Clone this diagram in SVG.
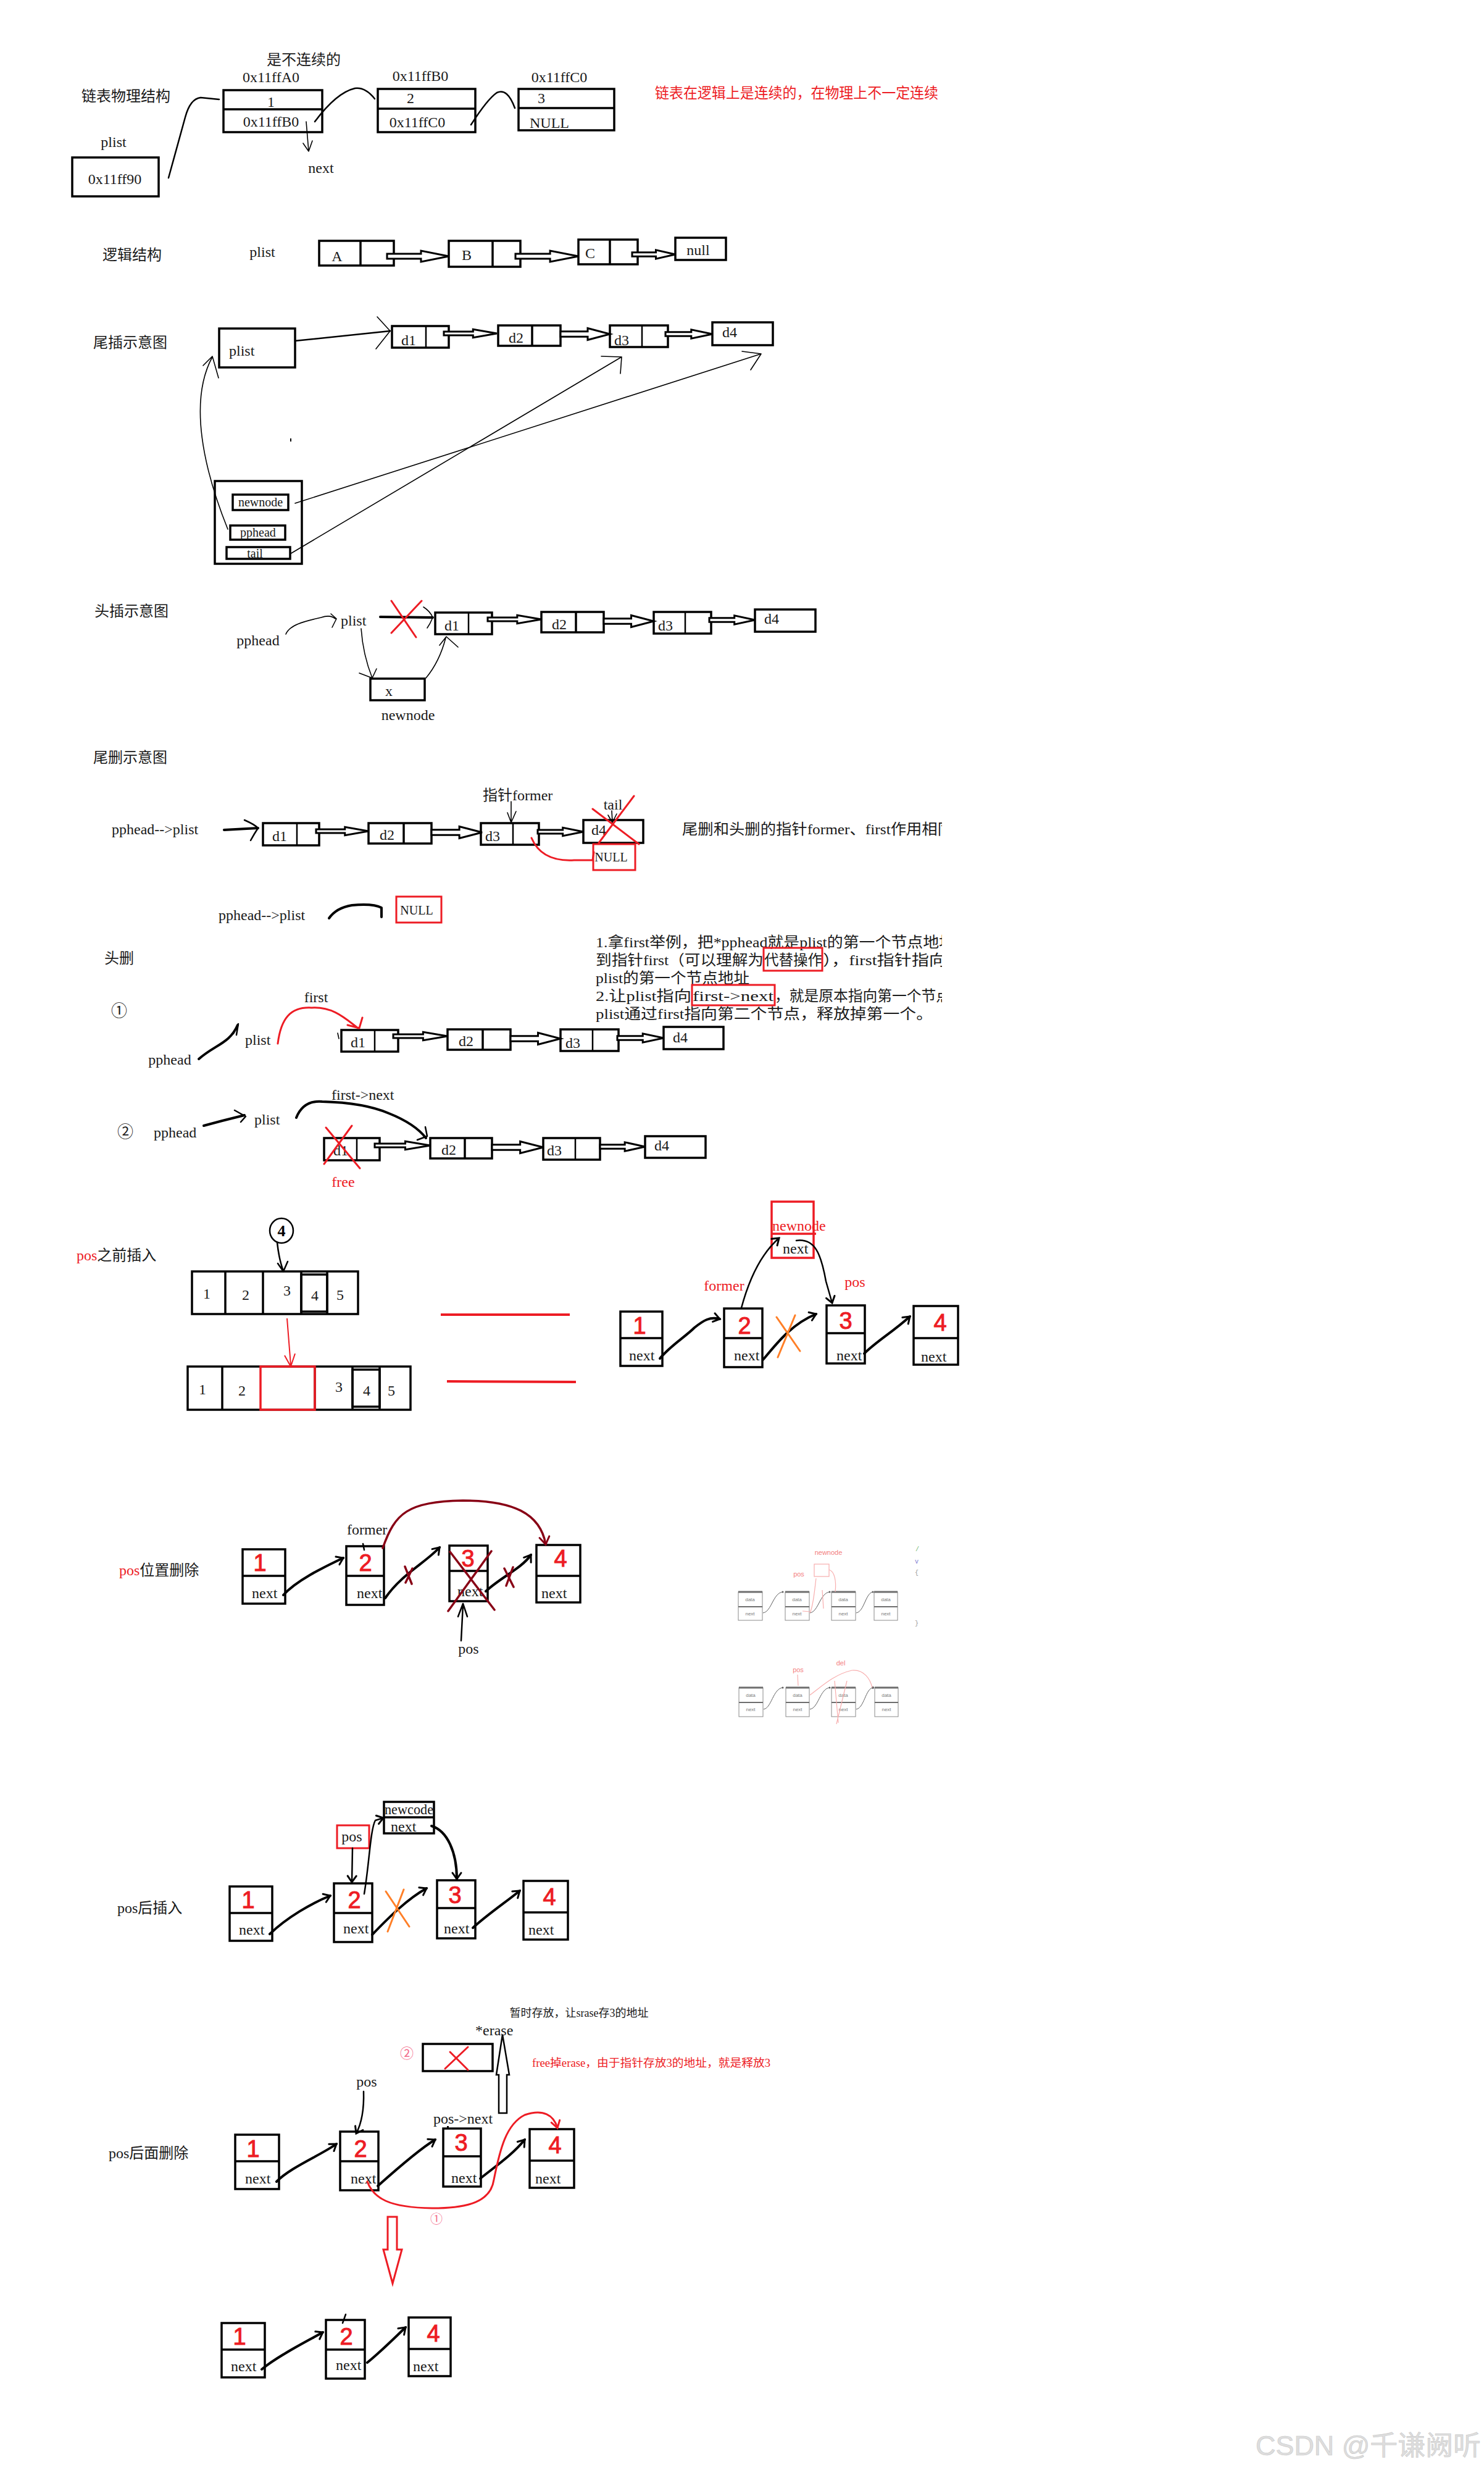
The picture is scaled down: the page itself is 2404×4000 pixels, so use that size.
<svg xmlns="http://www.w3.org/2000/svg" width="2404" height="4000" viewBox="0 0 2404 4000">
<defs>
<style>
.t{font-family:"Liberation Serif","Noto Sans CJK SC",serif;font-size:24px;fill:#1a1a1a}
.s{font-size:20px}
.m{text-anchor:middle}
.rd{fill:#ed1c24}
.hd{font-family:"Liberation Sans","Noto Sans CJK SC",sans-serif;font-size:38px;fill:#ed1c24;stroke:#ed1c24;stroke-width:1;text-anchor:middle}
.b{fill:none;stroke:#000;stroke-width:3.5}
.bt{fill:none;stroke:#000;stroke-width:2.5}
.c{fill:none;stroke:#000;stroke-width:4;stroke-linecap:round;stroke-linejoin:round}
.cm{fill:none;stroke:#000;stroke-width:2.5;stroke-linecap:round;stroke-linejoin:round}
.thin{fill:none;stroke:#000;stroke-width:1.6;stroke-linecap:round;stroke-linejoin:round}
.rc{fill:none;stroke:#ed1c24;stroke-width:3;stroke-linecap:round;stroke-linejoin:round}
.oc{fill:none;stroke:#ff7f27;stroke-width:3;stroke-linecap:round}
.dc{fill:none;stroke:#880015;stroke-width:3.5;stroke-linecap:round;stroke-linejoin:round}
.ha{fill:#fff;stroke:#000;stroke-width:3}
.fd{fill:#fff;stroke:#777;stroke-width:1}
.fdt{font-family:"Liberation Sans",sans-serif;font-size:8px;fill:#666;text-anchor:middle}
.fr{fill:none;stroke:#f7a0a0;stroke-width:1.2}
.frt{font-family:"Liberation Sans",sans-serif;font-size:11px;fill:#f26a6a;text-anchor:middle}
</style>
<path id="ha" d="M0,-4 H55 V-9 L100,0 L55,9 V4 H0 Z" vector-effect="non-scaling-stroke"/>
<marker id="mk" viewBox="-14 -10 16 20" refX="0" refY="0" markerWidth="16" markerHeight="20" markerUnits="userSpaceOnUse" orient="auto" overflow="visible"><path d="M-10,-7 L0,0 L-10,7" fill="none" stroke="#000" stroke-width="3" stroke-linecap="round"/></marker>
<marker id="mkr" viewBox="-14 -10 16 20" refX="0" refY="0" markerWidth="16" markerHeight="20" markerUnits="userSpaceOnUse" orient="auto" overflow="visible"><path d="M-11,-7 L0,0 L-11,7" fill="none" stroke="#ed1c24" stroke-width="3" stroke-linecap="round"/></marker>
<marker id="mkd" viewBox="-14 -10 16 20" refX="0" refY="0" markerWidth="16" markerHeight="20" markerUnits="userSpaceOnUse" orient="auto" overflow="visible"><path d="M-12,-8 L0,0 L-12,8" fill="none" stroke="#880015" stroke-width="3" stroke-linecap="round"/></marker>
<clipPath id="cr"><rect x="0" y="0" width="1526" height="4000"/></clipPath>
</defs>
<rect width="2404" height="4000" fill="#fff"/>

<!-- ===== 链表物理结构 ===== -->
<g id="phys">
<text class="t m" x="492" y="105">是不连续的</text>
<text class="t m" x="204" y="164">链表物理结构</text>
<text class="t rd" x="1061" y="159" textLength="459" lengthAdjust="spacingAndGlyphs">链表在逻辑上是连续的，在物理上不一定连续</text>
<text class="t m" x="184" y="238">plist</text>
<text class="t m" x="520" y="280">next</text>
<g id="phys-n1">
<text class="t m" x="439" y="133">0x11ffA0</text>
<rect class="b" x="362" y="146" width="160" height="68"/><line class="b" x1="362" y1="177" x2="522" y2="177"/>
<text class="t m" x="439" y="173">1</text><text class="t m" x="439" y="205">0x11ffB0</text>
</g>
<g id="phys-n2">
<text class="t m" x="681" y="131">0x11ffB0</text>
<rect class="b" x="612" y="144" width="158" height="70"/><line class="b" x1="612" y1="176" x2="770" y2="176"/>
<text class="t m" x="665" y="167">2</text><text class="t m" x="676" y="206">0x11ffC0</text>
</g>
<g id="phys-n3">
<text class="t m" x="906" y="133">0x11ffC0</text>
<rect class="b" x="840" y="144" width="155" height="67"/><line class="b" x1="840" y1="175" x2="995" y2="175"/>
<text class="t m" x="877" y="167">3</text><text class="t" x="858" y="207">NULL</text>
</g>
<g id="phys-plist">
<rect class="b" x="117" y="255" width="140" height="63"/>
<text class="t m" x="186" y="298">0x11ff90</text>
</g>
<g id="phys-conn">
<path class="cm" d="M273,288 L300,190 Q308,160 325,158 L355,161"/>
<path class="cm" d="M510,197 Q545,150 575,143 Q592,141 607,160"/>
<path class="cm" d="M763,202 Q790,160 805,150 Q822,142 834,175"/>
<path class="thin" d="M496,197 L500,245 M491,232 L500,245 L506,228"/>
</g>
</g>

<!-- ===== 逻辑结构 ===== -->
<g id="logic">
<text class="t m" x="214" y="421">逻辑结构</text>
<text class="t m" x="425" y="416">plist</text>
<g id="lg-A"><rect class="b" x="517" y="390" width="121" height="40"/><line class="b" x1="584" y1="390" x2="584" y2="430"/><text class="t m" x="546" y="423">A</text></g>
<g id="lg-B"><rect class="b" x="727" y="390" width="116" height="42"/><line class="b" x1="798" y1="390" x2="798" y2="432"/><text class="t m" x="756" y="421">B</text></g>
<g id="lg-C"><rect class="b" x="937" y="388" width="96" height="40"/><line class="b" x1="988" y1="388" x2="988" y2="428"/><text class="t m" x="956" y="418">C</text></g>
<g id="lg-null"><rect class="b" x="1094" y="385" width="82" height="36"/><text class="t m" x="1131" y="413">null</text></g>
<g id="lg-conn">
<use href="#ha" class="ha" transform="translate(627,415) scale(1,1)"/>
<use href="#ha" class="ha" transform="translate(835,415) scale(1.02,1)"/>
<use href="#ha" class="ha" transform="translate(1024,412) scale(0.7,0.8)"/>
</g>
</g>

<!-- ===== 尾插示意图 ===== -->
<g id="tailins">
<text class="t m" x="211" y="563">尾插示意图</text>
<g id="ti-plist"><rect class="b" x="355" y="532" width="123" height="63"/><text class="t" x="371" y="576">plist</text></g>
<g id="ti-d1"><rect class="b" x="635" y="528" width="92" height="35"/><line class="bt" x1="690" y1="528" x2="690" y2="563"/><text class="t m" x="662" y="559">d1</text></g>
<g id="ti-d2"><rect class="b" x="807" y="527" width="101" height="33"/><line class="b" x1="862" y1="527" x2="862" y2="560"/><text class="t m" x="836" y="555">d2</text></g>
<g id="ti-d3"><rect class="b" x="988" y="527" width="94" height="35"/><line class="bt" x1="1040" y1="527" x2="1040" y2="562"/><text class="t m" x="1007" y="559">d3</text></g>
<g id="ti-d4"><rect class="b" x="1154" y="522" width="98" height="37"/><text class="t" x="1170" y="546">d4</text></g>
<g id="ti-box">
<rect class="b" x="348" y="779" width="141" height="134"/>
<rect class="b" x="377" y="801" width="90" height="25"/><text class="t m s" x="422" y="820">newnode</text>
<rect class="b" x="373" y="851" width="89" height="23"/><text class="t m s" x="418" y="869">pphead</text>
<rect class="b" x="367" y="886" width="103" height="19"/><text class="t m s" x="413" y="903">tail</text>
</g>
<rect x="470" y="710" width="2" height="5" fill="#000"/>
<g id="ti-conn">
<use href="#ha" class="ha" transform="translate(719,540) scale(0.86,0.75)"/>
<use href="#ha" class="ha" transform="translate(908,541) scale(0.8,1.05)"/>
<use href="#ha" class="ha" transform="translate(1078,541) scale(0.76,0.8)"/>
<path class="cm" d="M478,552 L632,536"/>
<path class="thin" d="M611,513 L632,536 L609,565"/>
<path class="thin" d="M478,815 L1233,573 M1202,569 L1233,573 L1216,599"/>
<path class="thin" d="M470,897 L1007,578 M974,577 L1007,578 L1005,605"/>
<path class="thin" d="M369,857 C330,760 305,650 344,578 M329,592 L344,577 L354,612"/>
</g>
</g>

<!-- ===== 头插示意图 ===== -->
<g id="headins">
<text class="t m" x="213" y="998">头插示意图</text>
<text class="t m" x="418" y="1045">pphead</text>
<text class="t" x="552" y="1013">plist</text>
<text class="t m" x="661" y="1166">newnode</text>
<g id="hi-d1"><rect class="b" x="705" y="992" width="92" height="35"/><line class="bt" x1="759" y1="992" x2="759" y2="1027"/><text class="t m" x="732" y="1021">d1</text></g>
<g id="hi-d2"><rect class="b" x="877" y="991" width="101" height="33"/><line class="b" x1="933" y1="991" x2="933" y2="1024"/><text class="t m" x="906" y="1019">d2</text></g>
<g id="hi-d3"><rect class="b" x="1059" y="991" width="93" height="35"/><line class="bt" x1="1110" y1="991" x2="1110" y2="1026"/><text class="t m" x="1078" y="1021">d3</text></g>
<g id="hi-d4"><rect class="b" x="1223" y="987" width="98" height="36"/><text class="t" x="1238" y="1010">d4</text></g>
<g id="hi-x"><rect class="b" x="600" y="1099" width="88" height="35"/><text class="t m" x="630" y="1127">x</text></g>
<g id="hi-conn">
<use href="#ha" class="ha" transform="translate(790,1003) scale(0.87,0.75)"/>
<use href="#ha" class="ha" transform="translate(978,1006) scale(0.81,1.05)"/>
<use href="#ha" class="ha" transform="translate(1149,1004) scale(0.74,0.8)"/>
<path class="thin" d="M463,1027 C470,1010 500,1005 520,1000 Q535,995 543,1002 M536,994 L545,1002 L538,1016"/>
<path class="c" d="M616,999 L701,1000"/>
<path class="thin" d="M686,983 Q697,990 701,1000 Q697,1010 692,1017"/>
<path class="rc" d="M634,973 L674,1032 M683,973 L634,1025"/>
<path class="thin" d="M585,1018 Q588,1060 603,1098 M582,1090 L603,1098 L610,1083"/>
<path class="thin" d="M690,1098 C705,1080 715,1060 722,1033 M712,1045 L723,1031 L742,1048"/>
</g>
</g>

<!-- ===== 尾删示意图 ===== -->
<g id="taildel">
<text class="t m" x="211" y="1235">尾删示意图</text>
<text class="t" x="181" y="1351">pphead--&gt;plist</text>
<text class="t" x="782" y="1296">指针former</text>
<text class="t m" x="993" y="1311">tail</text>
<text class="t" x="1105" y="1351" clip-path="url(#cr)" textLength="439" lengthAdjust="spacingAndGlyphs">尾删和头删的指针former、first作用相同</text>
<g id="td-d1"><rect class="b" x="426" y="1333" width="91" height="36"/><line class="bt" x1="481" y1="1333" x2="481" y2="1369"/><text class="t m" x="453" y="1362">d1</text></g>
<g id="td-d2"><rect class="b" x="597" y="1333" width="102" height="33"/><line class="b" x1="654" y1="1333" x2="654" y2="1366"/><text class="t m" x="627" y="1360">d2</text></g>
<g id="td-d3"><rect class="b" x="779" y="1333" width="94" height="35"/><line class="bt" x1="831" y1="1333" x2="831" y2="1368"/><text class="t m" x="798" y="1362">d3</text></g>
<g id="td-d4"><rect class="b" x="945" y="1328" width="97" height="37"/><text class="t" x="958" y="1352">d4</text></g>
<g id="td-null"><rect fill="none" stroke="#ed1c24" stroke-width="3" x="961" y="1367" width="68" height="42"/><text class="t m s" x="990" y="1395">NULL</text></g>
<text class="t" x="354" y="1490">pphead--&gt;plist</text>
<g id="td-null2"><rect fill="none" stroke="#ed1c24" stroke-width="3" x="642" y="1452" width="73" height="42"/><text class="t m s" x="675" y="1481">NULL</text></g>
<g id="td-conn">
<use href="#ha" class="ha" transform="translate(512,1346) scale(0.85,0.75)"/>
<use href="#ha" class="ha" transform="translate(699,1348) scale(0.82,1.05)"/>
<use href="#ha" class="ha" transform="translate(871,1347) scale(0.74,0.75)"/>
<path class="c" d="M363,1344 L418,1341"/>
<path class="cm" d="M396,1328 Q412,1335 418,1341 Q412,1350 406,1361"/>
<path class="thin" d="M828,1298 L828,1332 M822,1316 L828,1332 L836,1314"/>
<path class="thin" d="M991,1313 L992,1331 M985,1320 L992,1332 L999,1318"/>
<path class="rc" stroke-width="2.5" d="M960,1310 L1035,1367 M1027,1289 L970,1365"/>
<path class="rc" d="M861,1357 C872,1383 895,1395 930,1393 L960,1393 L962,1380"/>
<path class="c" d="M533,1487 Q545,1470 570,1466 Q605,1463 618,1470 L618,1485"/>
</g>
</g>

<!-- ===== 头删 ===== -->
<g id="headdel">
<text class="t m" x="193" y="1560">头删</text>
<g id="hd-note" clip-path="url(#cr)">
<text class="t" x="965" y="1534" textLength="582" lengthAdjust="spacingAndGlyphs">1.拿first举例，把*pphead就是plist的第一个节点地址</text>
<text class="t" y="1563"><tspan x="965" textLength="272" lengthAdjust="spacingAndGlyphs">到指针first（可以理解为</tspan><tspan x="1238" textLength="94" lengthAdjust="spacingAndGlyphs">代替操作</tspan><tspan x="1333" textLength="200" lengthAdjust="spacingAndGlyphs">），first指针指向</tspan></text>
<text class="t" x="965" y="1592" textLength="249" lengthAdjust="spacingAndGlyphs">plist的第一个节点地址</text>
<text class="t" y="1621"><tspan x="965" textLength="155" lengthAdjust="spacingAndGlyphs">2.让plist指向</tspan><tspan x="1122" textLength="131" lengthAdjust="spacingAndGlyphs">first-&gt;next</tspan><tspan x="1255" textLength="285" lengthAdjust="spacingAndGlyphs">，就是原本指向第一个节点</tspan></text>
<text class="t" x="965" y="1650" textLength="546" lengthAdjust="spacingAndGlyphs">plist通过first指向第二个节点，释放掉第一个。</text>
<rect fill="none" stroke="#ed1c24" stroke-width="3" x="1237" y="1535" width="95" height="37"/>
<rect fill="none" stroke="#ed1c24" stroke-width="3" x="1121" y="1595" width="134" height="33"/>
</g>
<text class="t m" x="193" y="1646" style="font-size:26px">①</text>
<text class="t m" x="275" y="1724">pphead</text>
<text class="t" x="397" y="1692">plist</text>
<text class="t m" x="512" y="1623">first</text>
<g id="hd1-d1"><rect class="b" x="553" y="1668" width="92" height="35"/><line class="bt" x1="607" y1="1668" x2="607" y2="1703"/><text class="t m" x="580" y="1696">d1</text></g>
<g id="hd1-d2"><rect class="b" x="725" y="1667" width="102" height="33"/><line class="b" x1="782" y1="1667" x2="782" y2="1700"/><text class="t m" x="755" y="1694">d2</text></g>
<g id="hd1-d3"><rect class="b" x="908" y="1667" width="94" height="35"/><line class="bt" x1="960" y1="1667" x2="960" y2="1702"/><text class="t m" x="928" y="1697">d3</text></g>
<g id="hd1-d4"><rect class="b" x="1075" y="1663" width="97" height="36"/><text class="t" x="1090" y="1688">d4</text></g>
<text class="t m" x="203" y="1842" style="font-size:26px">②</text>
<text class="t" x="249" y="1842">pphead</text>
<text class="t" x="412" y="1821">plist</text>
<text class="t" x="537" y="1781">first-&gt;next</text>
<text class="t m rd" x="556" y="1922">free</text>
<g id="hd2-d1"><rect class="b" x="525" y="1843" width="90" height="36"/><line class="bt" x1="578" y1="1843" x2="578" y2="1879"/><text class="t m" x="552" y="1871">d1</text></g>
<g id="hd2-d2"><rect class="b" x="697" y="1843" width="100" height="33"/><line class="b" x1="753" y1="1843" x2="753" y2="1876"/><text class="t m" x="727" y="1870">d2</text></g>
<g id="hd2-d3"><rect class="b" x="880" y="1843" width="92" height="35"/><line class="bt" x1="932" y1="1843" x2="932" y2="1878"/><text class="t m" x="898" y="1871">d3</text></g>
<g id="hd2-d4"><rect class="b" x="1045" y="1840" width="98" height="35"/><text class="t" x="1060" y="1863">d4</text></g>
<g id="hd-conn">
<use href="#ha" class="ha" transform="translate(637,1678) scale(0.88,0.75)"/>
<use href="#ha" class="ha" transform="translate(827,1682) scale(0.81,1.05)"/>
<use href="#ha" class="ha" transform="translate(1000,1681) scale(0.75,0.8)"/>
<path class="c" d="M322,1715 C348,1692 372,1690 385,1660"/>
<path class="cm" d="M378,1674 L386,1658 L383,1676"/>
<path class="rc" d="M450,1690 C455,1650 470,1630 505,1632 C540,1630 560,1650 580,1665 M563,1660 L582,1665 L587,1648"/>
<path class="thin" d="M547,1673 L549,1682"/>
<use href="#ha" class="ha" transform="translate(607,1855) scale(0.9,0.75)"/>
<use href="#ha" class="ha" transform="translate(797,1858) scale(0.83,1.05)"/>
<use href="#ha" class="ha" transform="translate(972,1857) scale(0.73,0.8)"/>
<path class="c" d="M330,1823 L360,1815 L396,1806"/>
<path class="cm" d="M380,1798 L398,1808 L390,1817"/>
<path class="c" d="M480,1810 C490,1785 510,1783 522,1784 C560,1785 600,1790 630,1803 C660,1815 680,1830 690,1843"/>
<path class="cm" d="M676,1846 L692,1840 L689,1825"/>
<path class="rc" stroke-width="2.5" d="M528,1826 L583,1892 M570,1823 L525,1885"/>
</g>
</g>

<!-- ===== pos之前插入 ===== -->
<g id="posbefore">
<text class="t" x="124" y="2041"><tspan class="rd">pos</tspan>之前插入</text>
<g id="pb-circle"><ellipse cx="456" cy="1993" rx="19" ry="20" class="bt"/><text class="t m" x="456" y="2002" style="font-weight:bold;font-size:26px;fill:#000">4</text></g>
<g id="pb-arr1">
<rect class="b" x="311" y="2059" width="269" height="69" stroke-width="4"/>
<line class="b" x1="365" y1="2059" x2="365" y2="2128"/><line class="b" x1="426" y1="2059" x2="426" y2="2128"/><line class="b" x1="488" y1="2059" x2="488" y2="2128"/><line class="b" x1="530" y1="2059" x2="530" y2="2128"/>
<rect class="b" x="488" y="2064" width="42" height="60" stroke-width="4"/>
<text class="t m" x="335" y="2103">1</text><text class="t m" x="398" y="2105">2</text><text class="t m" x="465" y="2098">3</text><text class="t m" x="510" y="2106">4</text><text class="t m" x="551" y="2105">5</text>
</g>
<g id="pb-arr2">
<rect class="b" x="304" y="2213" width="361" height="70" stroke-width="4"/>
<line class="b" x1="360" y1="2213" x2="360" y2="2283"/><line class="b" x1="510" y1="2213" x2="510" y2="2283"/><line class="b" x1="571" y1="2213" x2="571" y2="2283"/><line class="b" x1="615" y1="2213" x2="615" y2="2283"/>
<rect class="b" x="571" y="2218" width="44" height="60" stroke-width="4"/>
<rect fill="none" stroke="#ed1c24" stroke-width="3.5" x="422" y="2213" width="88" height="70"/>
<text class="t m" x="328" y="2258">1</text><text class="t m" x="392" y="2260">2</text><text class="t m" x="549" y="2254">3</text><text class="t m" x="594" y="2260">4</text><text class="t m" x="634" y="2260">5</text>
</g>
<g id="pb-n1"><rect class="b" x="1005" y="2124" width="68" height="88"/><line class="b" x1="1005" y1="2167" x2="1073" y2="2167"/><text class="hd" x="1036" y="2160">1</text><text class="t" x="1019" y="2203">next</text></g>
<g id="pb-n2"><rect class="b" x="1173" y="2119" width="62" height="95"/><line class="b" x1="1173" y1="2167" x2="1235" y2="2167"/><text class="hd" x="1206" y="2160">2</text><text class="t" x="1189" y="2203">next</text></g>
<g id="pb-n3"><rect class="b" x="1339" y="2114" width="62" height="94"/><line class="b" x1="1339" y1="2159" x2="1401" y2="2159"/><text class="hd" x="1370" y="2152">3</text><text class="t" x="1355" y="2203">next</text></g>
<g id="pb-n4"><rect class="b" x="1480" y="2115" width="72" height="95"/><line class="b" x1="1480" y1="2167" x2="1552" y2="2167"/><text class="hd" x="1523" y="2155">4</text><text class="t" x="1492" y="2205">next</text></g>
<g id="pb-newnode"><rect fill="none" stroke="#ed1c24" stroke-width="3.5" x="1250" y="1946" width="68" height="91"/><line stroke="#ed1c24" stroke-width="3.5" x1="1250" y1="1998" x2="1322" y2="1998"/><text class="t rd" x="1251" y="1993">newnode</text><text class="t" x="1268" y="2030">next</text></g>
<text class="t m rd" x="1173" y="2090">former</text>
<text class="t m rd" x="1385" y="2084">pos</text>
<g id="pb-conn">
<path class="cm" d="M449,2012 Q452,2040 459,2058 M450,2046 L459,2059 L466,2043"/>
<path fill="none" stroke="#ed1c24" stroke-width="2" d="M465,2135 L471,2211 M461,2195 L471,2213 L478,2192"/>
<path stroke="#ed1c24" stroke-width="4" d="M714,2129 L923,2129 M724,2237 L933,2238"/>
<path class="c" marker-end="url(#mk)" d="M1069,2200 C1085,2180 1110,2165 1125,2150 C1140,2138 1150,2132 1166,2136"/>
<path class="cm" marker-end="url(#mk)" d="M1201,2118 Q1222,2040 1262,2005"/>
<path class="cm" marker-end="url(#mk)" d="M1290,2009 C1320,2005 1330,2030 1338,2075 L1348,2110"/>
<path class="c" marker-end="url(#mk)" d="M1236,2202 C1255,2180 1280,2145 1322,2128"/>
<path class="c" marker-end="url(#mk)" d="M1400,2192 C1420,2172 1445,2158 1474,2132"/>
<path class="oc" d="M1258,2133 L1296,2188 M1288,2130 L1260,2198"/>
</g>
</g>

<!-- ===== pos位置删除 ===== -->
<g id="posdel">
<text class="t" x="193" y="2551"><tspan class="rd">pos</tspan>位置删除</text>
<text class="t" x="562" y="2485">former</text>
<text class="t m" x="759" y="2678">pos</text>
<g id="pd-n1"><rect class="b" x="393" y="2509" width="69" height="88"/><line class="b" x1="393" y1="2552" x2="462" y2="2552"/><text class="hd" x="421" y="2544">1</text><text class="t" x="408" y="2588">next</text></g>
<g id="pd-n2"><rect class="b" x="561" y="2504" width="61" height="95"/><line class="b" x1="561" y1="2552" x2="622" y2="2552"/><text class="hd" x="592" y="2544">2</text><text class="t" x="578" y="2588">next</text></g>
<g id="pd-n3"><rect class="b" x="728" y="2503" width="62" height="90"/><line class="b" x1="728" y1="2544" x2="790" y2="2544"/><text class="hd" x="758" y="2537">3</text><text class="t" x="741" y="2585">next</text></g>
<g id="pd-n4"><rect class="b" x="869" y="2502" width="71" height="93"/><line class="b" x1="869" y1="2552" x2="940" y2="2552"/><text class="hd" x="908" y="2537">4</text><text class="t" x="877" y="2588">next</text></g>
<g id="pd-conn">
<path class="dc" marker-end="url(#mkd)" d="M620,2507 C640,2450 660,2432 750,2430 C830,2430 875,2450 884,2501"/>
<path class="cm" d="M588,2500 L590,2510"/>
<path class="c" marker-end="url(#mk)" d="M459,2583 C480,2560 520,2540 556,2523"/>
<path class="c" marker-end="url(#mk)" d="M624,2588 C650,2550 690,2530 712,2506"/>
<path class="c" marker-end="url(#mk)" d="M787,2577 C810,2555 845,2540 860,2518"/>
<path class="dc" stroke-width="2.5" d="M656,2537 L667,2565 M668,2540 L657,2563 M817,2540 L832,2570 M831,2538 L820,2568 M729,2513 L801,2607 M796,2512 L726,2609"/>
<path class="cm" d="M747,2657 L750,2599 M742,2618 L750,2597 L757,2618"/>
</g>
<g id="pd-thumb" opacity="0.85">
<g id="th-top">
<rect class="fd" x="1196" y="2578" width="39" height="46"/><line stroke="#555" stroke-width="3" x1="1196" y1="2578" x2="1235" y2="2578"/><line stroke="#555" stroke-width="2" x1="1196" y1="2602" x2="1235" y2="2602"/><text class="fdt" x="1215" y="2593">data</text><text class="fdt" x="1215" y="2616">next</text>
<rect class="fd" x="1272" y="2578" width="39" height="46"/><line stroke="#555" stroke-width="3" x1="1272" y1="2578" x2="1311" y2="2578"/><line stroke="#555" stroke-width="2" x1="1272" y1="2602" x2="1311" y2="2602"/><text class="fdt" x="1291" y="2593">data</text><text class="fdt" x="1291" y="2616">next</text>
<rect class="fd" x="1347" y="2578" width="39" height="46"/><line stroke="#555" stroke-width="3" x1="1347" y1="2578" x2="1386" y2="2578"/><line stroke="#555" stroke-width="2" x1="1347" y1="2602" x2="1386" y2="2602"/><text class="fdt" x="1366" y="2593">data</text><text class="fdt" x="1366" y="2616">next</text>
<rect class="fd" x="1416" y="2578" width="38" height="46"/><line stroke="#555" stroke-width="3" x1="1416" y1="2578" x2="1454" y2="2578"/><line stroke="#555" stroke-width="2" x1="1416" y1="2602" x2="1454" y2="2602"/><text class="fdt" x="1435" y="2593">data</text><text class="fdt" x="1435" y="2616">next</text>
<path fill="none" stroke="#444" stroke-width="1" d="M1236,2612 C1250,2610 1252,2580 1268,2578 M1312,2612 C1326,2610 1328,2580 1344,2578 M1387,2612 C1400,2610 1402,2580 1414,2578"/>
<circle cx="1268" cy="2578" r="1.5" fill="#444"/><circle cx="1344" cy="2578" r="1.5" fill="#444"/><circle cx="1414" cy="2578" r="1.5" fill="#444"/>
<text class="frt" x="1342" y="2518">newnode</text>
<text class="frt" x="1294" y="2553">pos</text>
<rect class="fr" x="1319" y="2533" width="24" height="20"/>
<path class="fr" d="M1312,2612 C1318,2600 1320,2570 1322,2556 M1343,2542 C1352,2545 1355,2560 1353,2578 M1332,2575 L1334,2605 M1300,2609 L1312,2610"/>
</g>
<g id="th-bot">
<rect class="fd" x="1197" y="2733" width="39" height="47"/><line stroke="#555" stroke-width="3" x1="1197" y1="2733" x2="1236" y2="2733"/><line stroke="#555" stroke-width="2" x1="1197" y1="2757" x2="1236" y2="2757"/><text class="fdt" x="1216" y="2748">data</text><text class="fdt" x="1216" y="2771">next</text>
<rect class="fd" x="1273" y="2733" width="38" height="47"/><line stroke="#555" stroke-width="3" x1="1273" y1="2733" x2="1311" y2="2733"/><line stroke="#555" stroke-width="2" x1="1273" y1="2757" x2="1311" y2="2757"/><text class="fdt" x="1292" y="2748">data</text><text class="fdt" x="1292" y="2771">next</text>
<rect class="fd" x="1347" y="2733" width="39" height="47"/><line stroke="#555" stroke-width="3" x1="1347" y1="2733" x2="1386" y2="2733"/><line stroke="#555" stroke-width="2" x1="1347" y1="2757" x2="1386" y2="2757"/><text class="fdt" x="1366" y="2748">data</text><text class="fdt" x="1366" y="2771">next</text>
<rect class="fd" x="1417" y="2733" width="38" height="47"/><line stroke="#555" stroke-width="3" x1="1417" y1="2733" x2="1455" y2="2733"/><line stroke="#555" stroke-width="2" x1="1417" y1="2757" x2="1455" y2="2757"/><text class="fdt" x="1436" y="2748">data</text><text class="fdt" x="1436" y="2771">next</text>
<path fill="none" stroke="#444" stroke-width="1" d="M1237,2768 C1250,2766 1252,2735 1268,2733 M1312,2768 C1326,2766 1328,2735 1344,2733 M1387,2768 C1400,2766 1402,2735 1414,2733"/>
<circle cx="1268" cy="2733" r="1.5" fill="#444"/><circle cx="1344" cy="2733" r="1.5" fill="#444"/><circle cx="1414" cy="2733" r="2" fill="#444"/>
<text class="frt" x="1362" y="2697">del</text>
<text class="frt" x="1293" y="2708">pos</text>
<path class="fr" d="M1292,2712 L1293,2730 M1312,2745 C1330,2732 1350,2712 1380,2705 C1400,2703 1410,2720 1413,2733 M1352,2722 L1358,2790 M1372,2722 L1355,2792"/>
</g>
<text x="1483" y="2512" style="font-family:'Liberation Mono',monospace;font-size:10px;fill:#5a5">/</text>
<text x="1482" y="2532" style="font-family:'Liberation Mono',monospace;font-size:10px;fill:#66c">v</text>
<text x="1482" y="2550" style="font-family:'Liberation Mono',monospace;font-size:10px;fill:#888">{</text>
<text x="1482" y="2632" style="font-family:'Liberation Mono',monospace;font-size:10px;fill:#888">}</text>
</g>
</g>

<!-- ===== pos后插入 ===== -->
<g id="posafter">
<text class="t" x="190" y="3098">pos后插入</text>
<g id="pa-n1"><rect class="b" x="372" y="3055" width="69" height="88"/><line class="b" x1="372" y1="3098" x2="441" y2="3098"/><text class="hd" x="402" y="3090">1</text><text class="t" x="387" y="3133">next</text></g>
<g id="pa-n2"><rect class="b" x="541" y="3050" width="62" height="95"/><line class="b" x1="541" y1="3098" x2="603" y2="3098"/><text class="hd" x="574" y="3090">2</text><text class="t" x="556" y="3131">next</text></g>
<g id="pa-n3"><rect class="b" x="708" y="3045" width="62" height="94"/><line class="b" x1="708" y1="3090" x2="770" y2="3090"/><text class="hd" x="737" y="3082">3</text><text class="t" x="719" y="3131">next</text></g>
<g id="pa-n4"><rect class="b" x="848" y="3046" width="72" height="95"/><line class="b" x1="848" y1="3097" x2="920" y2="3097"/><text class="hd" x="890" y="3085">4</text><text class="t" x="856" y="3133">next</text></g>
<g id="pa-newcode"><rect class="b" x="622" y="2918" width="81" height="51"/><line class="b" x1="622" y1="2943" x2="703" y2="2943"/><text class="t" x="623" y="2938" textLength="79" lengthAdjust="spacingAndGlyphs">newcode</text><text class="t" x="633" y="2966">next</text></g>
<g id="pa-pos"><rect fill="none" stroke="#ed1c24" stroke-width="3" x="546" y="2956" width="52" height="37"/><text class="t m" x="570" y="2982">pos</text></g>
<g id="pa-conn">
<path class="cm" marker-end="url(#mk)" d="M571,2993 L570,3048"/>
<path class="cm" marker-end="url(#mk)" d="M590,3067 C598,3020 600,2962 608,2948 L621,2944"/>
<path class="c" marker-end="url(#mk)" d="M699,2957 C725,2965 740,3000 740,3043"/>
<path class="c" marker-end="url(#mk)" d="M437,3132 C465,3105 505,3082 535,3070"/>
<path class="c" marker-end="url(#mk)" d="M603,3133 C630,3105 660,3075 691,3058"/>
<path class="c" marker-end="url(#mk)" d="M766,3122 C790,3100 820,3080 842,3062"/>
<path class="oc" d="M625,3063 L663,3120 M654,3060 L628,3128"/>
</g>
</g>

<!-- ===== pos后面删除 ===== -->
<g id="posafterdel">
<text class="t" x="176" y="3495">pos后面删除</text>
<text class="t m" x="938" y="3266" style="font-size:18px">暂时存放，让srase存3的地址</text>
<text class="t" x="770" y="3296">*erase</text>
<text class="t m" x="659" y="3333" style="font-size:22px;fill:#f36a8a">②</text>
<g id="pad-erase"><rect class="b" x="685" y="3310" width="113" height="44"/><path class="rc" stroke-width="3.5" d="M721,3350 L758,3315 M729,3323 L758,3352"/></g>
<text class="t rd" x="862" y="3347" style="font-size:18px" textLength="386" lengthAdjust="spacingAndGlyphs">free掉erase，由于指针存放3的地址，就是释放3</text>
<text class="t m" x="594" y="3379">pos</text>
<text class="t" x="702" y="3439">pos-&gt;next</text>
<g id="pad-n1"><rect class="b" x="381" y="3457" width="71" height="88"/><line class="b" x1="381" y1="3500" x2="452" y2="3500"/><text class="hd" x="410" y="3493">1</text><text class="t" x="397" y="3536">next</text></g>
<g id="pad-n2"><rect class="b" x="551" y="3452" width="62" height="95"/><line class="b" x1="551" y1="3500" x2="613" y2="3500"/><text class="hd" x="584" y="3493">2</text><text class="t" x="568" y="3536">next</text></g>
<g id="pad-n3"><rect class="b" x="718" y="3447" width="61" height="94"/><line class="b" x1="718" y1="3492" x2="779" y2="3492"/><text class="hd" x="747" y="3483">3</text><text class="t" x="731" y="3535">next</text></g>
<g id="pad-n4"><rect class="b" x="858" y="3448" width="72" height="95"/><line class="b" x1="858" y1="3499" x2="930" y2="3499"/><text class="hd" x="899" y="3487">4</text><text class="t" x="867" y="3536">next</text></g>
<text class="t m" x="707" y="3601" style="font-size:20px;fill:#f36a8a">①</text>
<g id="pad-r1"><rect class="b" x="359" y="3762" width="70" height="88"/><line class="b" x1="359" y1="3805" x2="429" y2="3805"/><text class="hd" x="388" y="3797">1</text><text class="t" x="374" y="3840">next</text></g>
<g id="pad-r2"><rect class="b" x="528" y="3757" width="63" height="95"/><line class="b" x1="528" y1="3805" x2="591" y2="3805"/><text class="hd" x="561" y="3797">2</text><text class="t" x="544" y="3838">next</text></g>
<g id="pad-r4"><rect class="b" x="662" y="3753" width="68" height="95"/><line class="b" x1="662" y1="3804" x2="730" y2="3804"/><text class="hd" x="702" y="3792">4</text><text class="t" x="669" y="3840">next</text></g>
<g id="pad-conn">
<polygon fill="#fff" stroke="#000" stroke-width="2.5" points="808,3422 821,3422 821,3360 825,3360 814,3295 804,3360 808,3360"/>
<path class="cm" marker-end="url(#mk)" d="M589,3387 C590,3420 585,3440 577,3455"/>
<rect x="724" y="3443" width="3" height="3" fill="#000"/>
<path class="c" marker-end="url(#mk)" d="M448,3533 C470,3510 520,3490 545,3472"/>
<path class="c" marker-end="url(#mk)" d="M612,3540 C640,3515 680,3480 705,3465"/>
<path class="c" marker-end="url(#mk)" d="M778,3528 C800,3510 830,3490 850,3465"/>
<path class="rc" stroke-width="3.5" marker-end="url(#mkr)" d="M595,3533 C605,3560 630,3575 700,3576 C760,3576 795,3565 800,3530 C810,3480 820,3440 850,3425 C880,3415 897,3425 903,3446"/>
<polygon fill="#fff" stroke="#ed1c24" stroke-width="3" points="628,3590 643,3590 643,3643 651,3643 636,3698 621,3643 628,3643"/>
<path class="cm" d="M560,3748 L555,3762"/>
<path class="c" marker-end="url(#mk)" d="M424,3837 C450,3815 500,3790 523,3777"/>
<path class="c" marker-end="url(#mk)" d="M595,3826 C615,3810 635,3790 657,3769"/>
</g>
</g>

<text x="2034" y="3976" style="font-family:'Liberation Sans','Noto Sans CJK SC',sans-serif;font-size:44px;fill:#dedede;stroke:#c8c8c8;stroke-width:0.6" textLength="365" lengthAdjust="spacingAndGlyphs">CSDN @千谦阙听</text>
</svg>
